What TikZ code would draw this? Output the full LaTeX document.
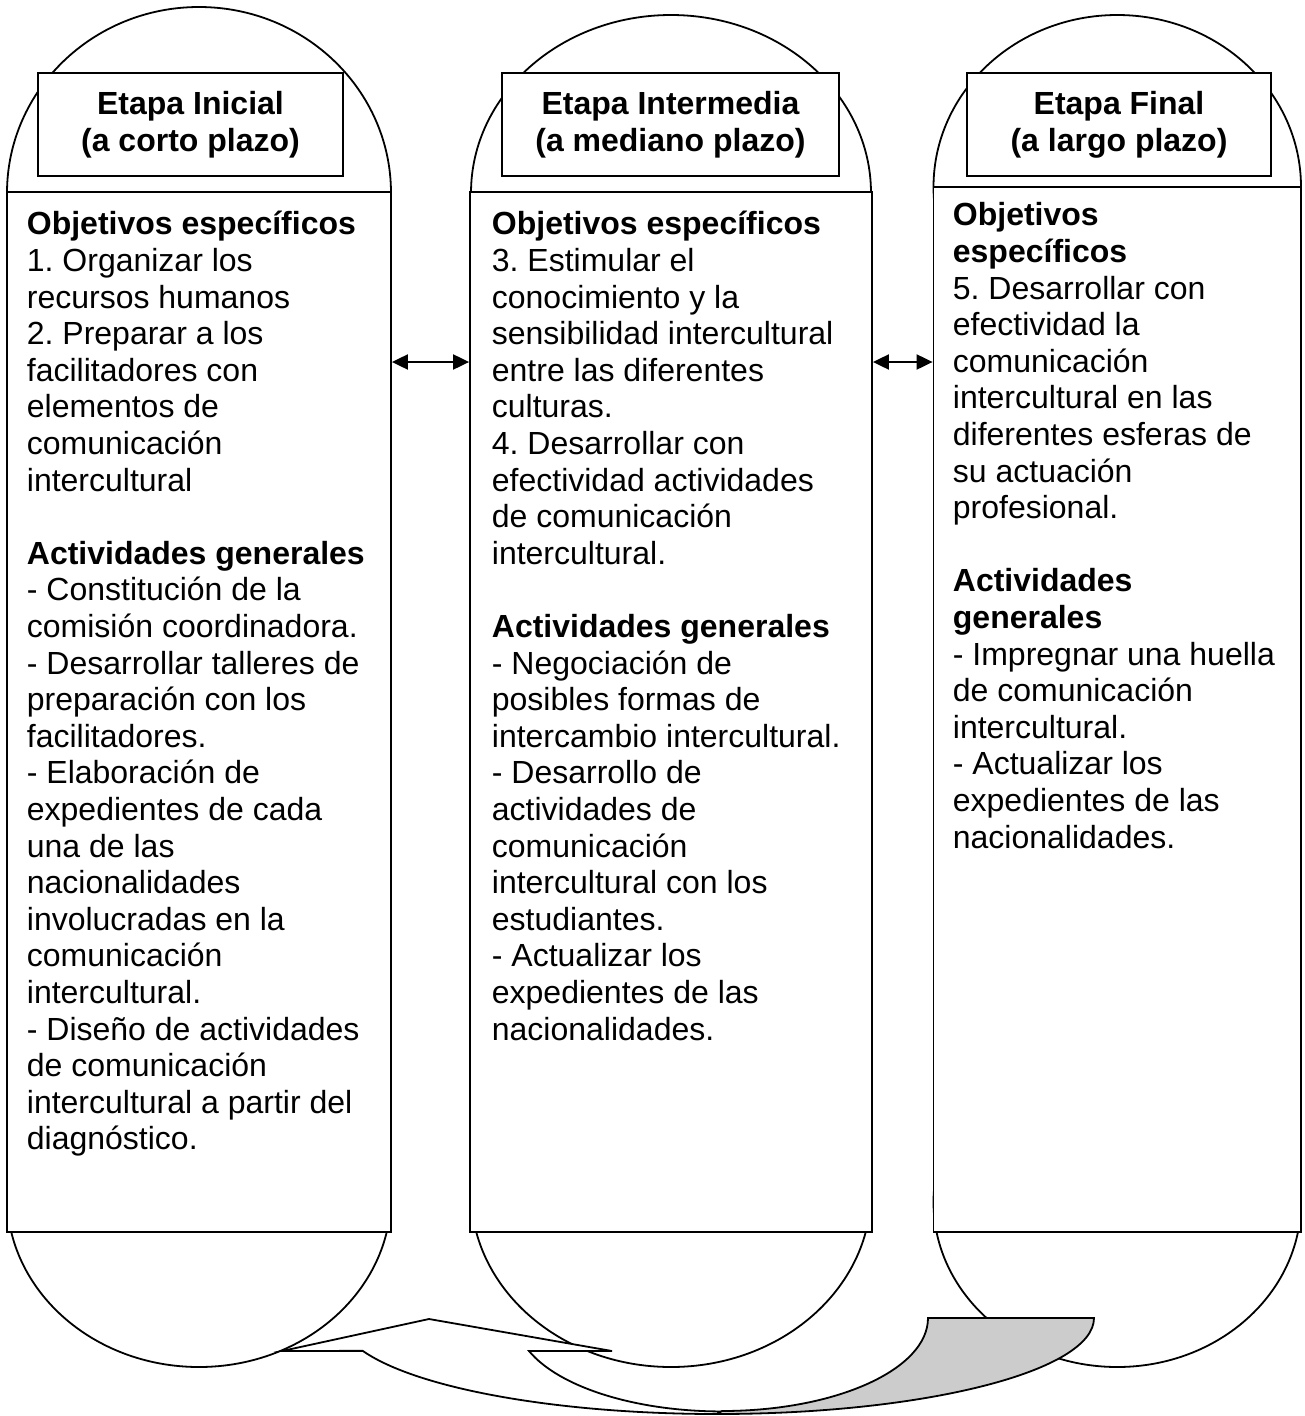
\documentclass[tikz,border=0pt]{standalone}
\usepackage{fontspec}
\setmainfont{Liberation Sans}
\usetikzlibrary{arrows.meta}
\frenchspacing
\begin{document}
\begin{tikzpicture}[x=1pt,y=-1pt,line width=1.8pt,
  capsule/.style={draw,fill=white},
  colbox/.style={draw,fill=white,inner sep=0pt},
  titlebox/.style={draw,fill=white,inner sep=0pt,align=center,font=\fontsize{32}{37}\selectfont\bfseries},
  bodytext/.style={anchor=north west,inner sep=0pt,align=left,font=\fontsize{32}{36.6}\selectfont},
  dblarrow/.style={{Triangle[length=16pt,width=15pt]}-{Triangle[length=16pt,width=15pt]},line width=2pt},
  ribbon/.style={draw,fill=white,line join=miter},
  fold/.style={draw,fill=black!20}
]
\useasboundingbox (0,0) rectangle (1304,1416);

% top and bottom ellipses of each column
\draw[capsule] (199,193) ellipse[x radius=192pt,y radius=186pt];
\draw[capsule] (671,193) ellipse[x radius=200pt,y radius=178pt];
\draw[capsule] (1117.25,187) ellipse[x radius=183.75pt,y radius=172pt];
\draw[capsule] (199,1196) ellipse[x radius=192pt,y radius=171pt];
\draw[capsule] (671,1192) ellipse[x radius=200pt,y radius=175pt];
\draw[capsule] (1117.25,1202) ellipse[x radius=183.75pt,y radius=165pt];

% column bodies
\node[colbox,minimum width=384pt,minimum height=1040pt] (c1) at (199,712) {};
\node[colbox,minimum width=402pt,minimum height=1040pt] (c2) at (671,712) {};
\node[colbox,minimum width=367.5pt,minimum height=1045pt] (c3) at (1117.25,709.5) {};

% title boxes
\node[titlebox,minimum width=305pt,minimum height=103pt] (h1) at (190.5,124.5) {Etapa Inicial\\(a corto plazo)};
\node[titlebox,minimum width=337pt,minimum height=103pt] (h2) at (670.5,124.5) {Etapa Intermedia\\(a mediano plazo)};
\node[titlebox,minimum width=304pt,minimum height=103pt] (h3) at (1119,124.5) {Etapa Final\\(a largo plazo)};

% body texts
\node[bodytext] (t1) at (26,204) {\rule{0pt}{30pt}\textbf{Objetivos específicos}\\
1. Organizar los\\
recursos humanos\\
2. Preparar a los\\
facilitadores con\\
elementos de\\
comunicación\\
intercultural\\[36.6pt]
\textbf{Actividades generales}\\
- Constitución de la\\
comisión coordinadora.\\
- Desarrollar talleres de\\
preparación con los\\
facilitadores.\\
- Elaboración de\\
expedientes de cada\\
una de las\\
nacionalidades\\
involucradas en la\\
comunicación\\
intercultural.\\
- Diseño de actividades\\
de comunicación\\
intercultural a partir del\\
diagnóstico.};

\node[bodytext] (t2) at (491,204) {\rule{0pt}{30pt}\textbf{Objetivos específicos}\\
3. Estimular el\\
conocimiento y la\\
sensibilidad intercultural\\
entre las diferentes\\
culturas.\\
4. Desarrollar con\\
efectividad actividades\\
de comunicación\\
intercultural.\\[36.6pt]
\textbf{Actividades generales}\\
- Negociación de\\
posibles formas de\\
intercambio intercultural.\\
- Desarrollo de\\
actividades de\\
comunicación\\
intercultural con los\\
estudiantes.\\
- Actualizar los\\
expedientes de las\\
nacionalidades.};

\node[bodytext] (t3) at (952,195) {\rule{0pt}{30pt}\textbf{Objetivos}\\
\textbf{específicos}\\
5. Desarrollar con\\
efectividad la\\
comunicación\\
intercultural en las\\
diferentes esferas de\\
su actuación\\
profesional.\\[36.6pt]
\textbf{Actividades}\\
\textbf{generales}\\
- Impregnar una huella\\
de comunicación\\
intercultural.\\
- Actualizar los\\
expedientes de las\\
nacionalidades.};

% double arrows between columns
\coordinate (ya) at (0,362);
\draw[dblarrow] (c1.east |- ya) -- (c2.west |- ya);
\draw[dblarrow] (c2.east |- ya) -- (c3.west |- ya);

% curved arrow at the bottom
\draw[ribbon] (282,1351) -- (429,1319) -- (612,1351) -- (529,1351)
  arc[start angle=200.5,end angle=270,x radius=206pt,y radius=93pt]
  -- (717,1414)
  arc[start angle=270,end angle=200,x radius=377pt,y radius=96pt]
  -- cycle;
\draw[fold] (928,1318) -- (1094,1318)
  arc[start angle=0,end angle=-90,x radius=377pt,y radius=96pt]
  -- (722,1411)
  arc[start angle=270,end angle=360,x radius=206pt,y radius=93pt]
  -- cycle;
\end{tikzpicture}
\end{document}
